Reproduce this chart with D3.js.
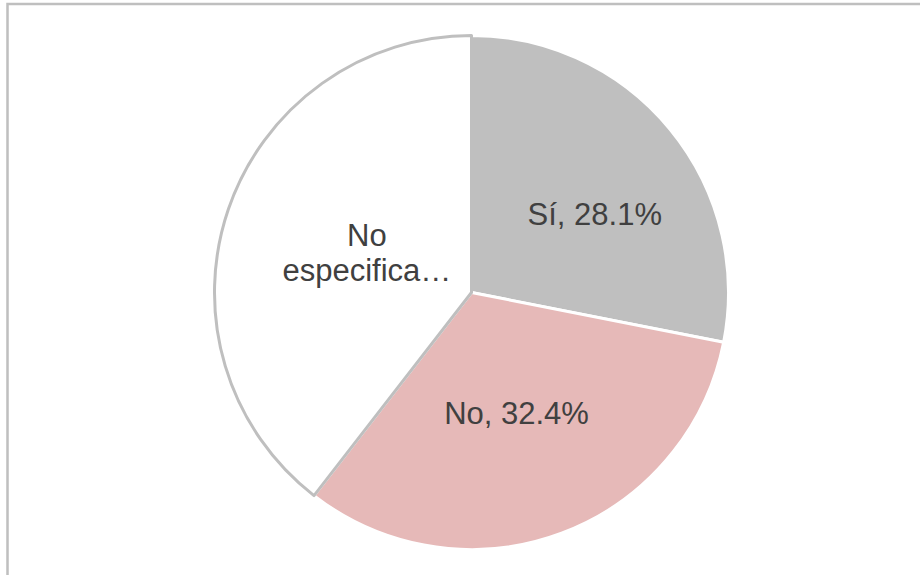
<!DOCTYPE html>
<html>
<head>
    <meta charset="utf-8">
    <title>Pie</title>
    <script src="https://cdn.jsdelivr.net/npm/d3@7"></script>
    <style>
        body { margin: 0; background: #fff; }
        svg { display: block; }
        .label { font-family: "Liberation Sans", Arial, sans-serif; font-size: 31px; fill: #404040; }
    </style>
</head>
<body>
<script>
    // data
    const categories = ["Sí", "No", "No especifica…"];
    const values = [28.1, 32.4, 39.5];
    const labels = ["Sí, 28.1%", "No, 32.4%", ["No", "especifica…"]];

    const width = 920, height = 575;
    const cx = 471.5, cy = 292.5, radius = 257;

    const fills = ["#bfbfbf", "#e6b9b8", "#ffffff"];
    const strokes = ["#ffffff", "#ffffff", "#bfbfbf"];
    // small nudges so the labels sit where the original put them
    const labelNudge = [[24, 3], [0, 0], [17, 2]];

    const svg = d3.select("body").append("svg")
        .attr("width", width)
        .attr("height", height);

    // chart frame (bottom and right run off the canvas)
    svg.append("rect")
        .attr("x", 7.5).attr("y", 4)
        .attr("width", 940).attr("height", 620)
        .attr("fill", "none")
        .attr("stroke", "#bfbfbf")
        .attr("stroke-width", 2.5);

    const data = categories.map((c, i) => ({ name: c, value: values[i], i: i }));

    const pie = d3.pie().sort(null).value(d => d.value);
    const arc = d3.arc().innerRadius(0).outerRadius(radius);

    const g = svg.append("g").attr("transform", "translate(" + cx + "," + cy + ")");

    const slices = pie(data);

    g.selectAll("path")
        .data(slices)
        .enter().append("path")
        .attr("d", arc)
        .attr("fill", d => fills[d.data.i])
        .attr("stroke", d => strokes[d.data.i])
        .attr("stroke-width", 3)
        .attr("stroke-linejoin", "round");

    slices.forEach(function(d) {
        const i = d.data.i;
        const c = arc.centroid(d);
        const x = c[0] + labelNudge[i][0];
        const y = c[1] + labelNudge[i][1];
        const lines = Array.isArray(labels[i]) ? labels[i] : [labels[i]];
        const lh = 35;
        const t = g.append("text")
            .attr("class", "label")
            .attr("text-anchor", "middle")
            .attr("x", x)
            .attr("y", y - (lines.length - 1) * lh / 2);
        lines.forEach(function(l, k) {
            t.append("tspan")
                .attr("x", x)
                .attr("dy", k === 0 ? "0.35em" : lh)
                .text(l);
        });
    });
</script>
</body>
</html>
